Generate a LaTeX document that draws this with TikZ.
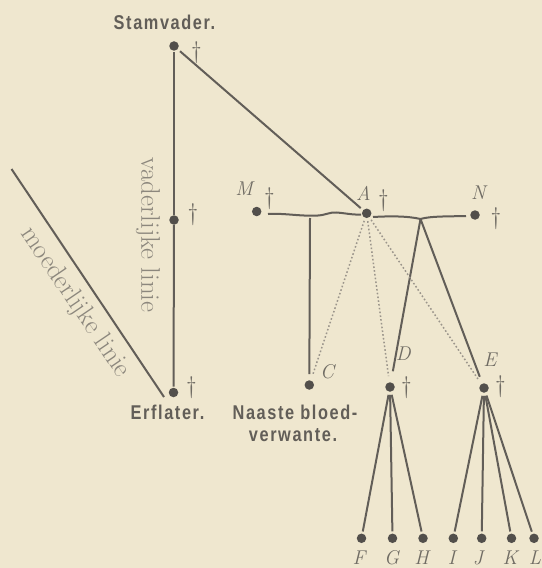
\documentclass[tikz,border=0pt]{standalone}
\usepackage{fontspec}
\newfontfamily\labfont[FakeStretch=0.82,LetterSpace=8]{Liberation Sans}
\definecolor{bgc}{RGB}{239,231,207}
\definecolor{inkc}{RGB}{98,94,88}
\definecolor{dotc}{RGB}{82,79,75}
\definecolor{txtc}{RGB}{112,108,100}
\definecolor{lightc}{RGB}{140,135,125}
\definecolor{dotln}{RGB}{155,149,139}
\tikzset{
  dot/.style={circle, fill=dotc, inner sep=0pt, minimum size=9.5bp},
  ln/.style={draw=inkc, line width=2bp},
  dln/.style={draw=dotln, line width=1.5bp, dash pattern=on 1.6bp off 2.2bp},
  dag/.style={font=\fontsize{24}{24}\selectfont, text=txtc, inner sep=0pt},
  lett/.style={font=\fontsize{20}{20}\selectfont\itshape, text=txtc, inner sep=0pt},
  bold/.style={font=\labfont\bfseries\fontsize{20}{22}\selectfont, text=inkc, inner sep=0pt, anchor=base},
  rot/.style={font=\fontsize{27}{27}\selectfont, text=lightc, inner sep=0pt}
}
\begin{document}
\begin{tikzpicture}[x=1bp,y=-1bp]
\fill[bgc] (0,0) rectangle (542,568);
\useasboundingbox (0,0) rectangle (542,568);

% dots
\node[dot] (S) at (174,46) {};
\node[dot] (V) at (174,220) {};
\node[dot] (Er) at (173.5,392.5) {};
\node[dot] (M) at (256.7,211.5) {};
\node[dot] (A) at (366.7,213.3) {};
\node[dot] (N) at (475,215) {};
\node[dot] (C) at (309.3,385) {};
\node[dot] (D) at (390,387) {};
\node[dot] (E) at (484,388) {};
\node[dot] (F) at (361.5,538.3) {};
\node[dot] (G) at (392.5,538.3) {};
\node[dot] (H) at (423,538.3) {};
\node[dot] (I) at (453.3,538.3) {};
\node[dot] (J) at (481.7,538.3) {};
\node[dot] (K) at (511.5,538.3) {};
\node[dot] (L) at (534,538.3) {};

% texts
\node[bold] (tS) at (164.5,30) {Stamvader.};
\node[bold] (tEr) at (167.5,419) {Erflater.};
\node[bold] (tN1) at (295,419) {Naaste bloed-};
\node[bold] (tN2) at (293,441.7) {verwante.};
\node[rot, rotate=-90] (tv) at (148,235) {vaderlijke linie};
\node[rot, rotate=-55.8] (tm) at (75,302.5) {moederlijke linie};

% daggers
\node[dag] (dS) at (196.5,53) {\textdagger};
\node[dag] (dV) at (193,215) {\textdagger};
\node[dag] (dEr) at (191.5,388) {\textdagger};
\node[dag] (dM) at (269.5,199) {\textdagger};
\node[dag] (dA) at (383.5,201) {\textdagger};
\node[dag] (dN) at (496,219) {\textdagger};
\node[dag] (dD) at (406.5,388) {\textdagger};
\node[dag] (dE) at (500.5,386.5) {\textdagger};

% letters
\node[lett] (lM) at (244,188.3) {M};
\node[lett] (lA) at (363.3,193) {A};
\node[lett] (lN) at (478.3,193) {N};
\node[lett] (lC) at (327,371.7) {C};
\node[lett] (lD) at (403.3,353.3) {D};
\node[lett] (lE) at (490,360) {E};
\node[lett] (lF) at (359,558) {F};
\node[lett] (lG) at (391.7,558) {G};
\node[lett] (lH) at (421.7,558) {H};
\node[lett] (lI) at (451.7,558) {I};
\node[lett] (lJ) at (478,558) {J};
\node[lett] (lK) at (510,558) {K};
\node[lett] (lL) at (535,558) {L};

% paternal line
\draw[ln, shorten <=1bp] (S) -- (V);
\draw[ln, shorten >=1bp] (V) -- (Er);
\draw[ln, shorten <=3bp, shorten >=3bp] (S) -- (A);

% maternal line
\coordinate (m1) at (11.5,169);
\coordinate (m2) at (164,397);
\draw[ln] (m1) -- (m2);

% marriage lines
\coordinate (jc) at (310,218);
\coordinate (jd) at (420.5,219);
\draw[ln] (268,214) .. controls (285,213) and (300,216.5) .. (318,215.5)
  .. controls (326,215) and (330,212) .. (336,212.5)
  .. controls (345,213) and (352,215) .. (361,214.5);
\draw[ln] (373,217) .. controls (390,216) and (408,216) .. (jd)
  .. controls (430,216) and (450,216.5) .. (466,216);
\draw[ln, shorten >=6bp] (jc) -- (C);
\draw[ln, shorten >=11bp] (jd) -- (D);
\draw[ln, shorten >=7bp] (jd) -- (E);

% dotted lines
\draw[dln, shorten <=3bp, shorten >=6bp] (A) -- (C);
\draw[dln, shorten <=3bp, shorten >=6bp] (A) -- (D);
\draw[dln, shorten <=3bp, shorten >=6bp] (A) -- (E);

% children
\foreach \c in {F,G,H} \draw[ln, shorten <=3bp, shorten >=2bp] (D) -- (\c);
\foreach \c in {I,J,K,L} \draw[ln, shorten <=3bp, shorten >=2bp] (E) -- (\c);
\end{tikzpicture}
\end{document}
